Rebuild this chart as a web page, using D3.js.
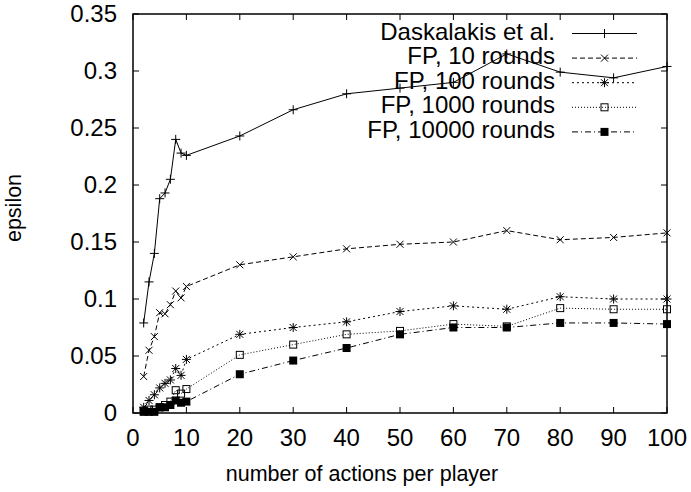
<!DOCTYPE html>
<html>
<head>
<meta charset="utf-8">
<script src="https://cdn.jsdelivr.net/npm/d3@7"></script>
<style>
  body { margin: 0; background: #fff; }
  svg text { font-family: "Liberation Sans", Arial, sans-serif; fill: #000; }
</style>
</head>
<body>
<svg id="chart" width="691" height="492"></svg>
<script>
// data
const actions = [2, 3, 4, 5, 6, 7, 8, 9, 10, 20, 30, 40, 50, 60, 70, 80, 90, 100];
const daskalakis = [0.079, 0.115, 0.140, 0.188, 0.193, 0.205, 0.240, 0.228, 0.226, 0.243, 0.266, 0.280, 0.285, 0.290, 0.315, 0.299, 0.294, 0.304];
const fp10 = [0.032, 0.055, 0.067, 0.088, 0.087, 0.095, 0.107, 0.101, 0.111, 0.130, 0.137, 0.144, 0.148, 0.150, 0.160, 0.152, 0.154, 0.158];
const fp100 = [0.005, 0.011, 0.016, 0.022, 0.026, 0.029, 0.039, 0.033, 0.047, 0.069, 0.075, 0.080, 0.089, 0.094, 0.091, 0.102, 0.100, 0.100];
const fp1000 = [0.002, 0.003, 0.003, 0.005, 0.007, 0.010, 0.020, 0.017, 0.021, 0.051, 0.060, 0.069, 0.072, 0.078, 0.076, 0.092, 0.091, 0.091];
const fp10000 = [0.001, 0.001, 0.001, 0.005, 0.005, 0.007, 0.011, 0.009, 0.010, 0.034, 0.046, 0.057, 0.069, 0.075, 0.075, 0.079, 0.079, 0.078];

const seriesNames = ["Daskalakis et al.", "FP, 10 rounds", "FP, 100 rounds", "FP, 1000 rounds", "FP, 10000 rounds"];
const seriesValues = [daskalakis, fp10, fp100, fp1000, fp10000];
const xTicks = [0, 10, 20, 30, 40, 50, 60, 70, 80, 90, 100];
const yTicks = [0, 0.05, 0.1, 0.15, 0.2, 0.25, 0.3, 0.35];

const dashes = [null, "5,3", "2,3", "1,2", "6,3,1,3"];
const markers = ["plus", "cross", "star", "square", "filled"];

const plotLeft = 133, plotRight = 667, plotTop = 14, plotBottom = 413;

const svg = d3.select("#chart");

const x = d3.scaleLinear().domain([0, 100]).range([plotLeft, plotRight]);
const y = d3.scaleLinear().domain([0, 0.35]).range([plotBottom, plotTop]);

// ticks on all four sides, pointing in
const tickLen = 6;
const axisG = svg.append("g").attr("stroke", "#000").attr("stroke-width", 1);
xTicks.forEach(t => {
  axisG.append("line").attr("x1", x(t)).attr("x2", x(t)).attr("y1", plotBottom).attr("y2", plotBottom - tickLen);
  axisG.append("line").attr("x1", x(t)).attr("x2", x(t)).attr("y1", plotTop).attr("y2", plotTop + tickLen);
});
yTicks.forEach(t => {
  axisG.append("line").attr("x1", plotLeft).attr("x2", plotLeft + tickLen).attr("y1", y(t)).attr("y2", y(t));
  axisG.append("line").attr("x1", plotRight).attr("x2", plotRight - tickLen).attr("y1", y(t)).attr("y2", y(t));
});

svg.append("g").selectAll("text")
  .data(xTicks)
  .join("text")
  .attr("x", d => x(d))
  .attr("y", 446)
  .attr("text-anchor", "middle")
  .style("font-size", "24px")
  .text(d => d);

svg.append("g").selectAll("text")
  .data(yTicks)
  .join("text")
  .attr("x", 117)
  .attr("y", d => y(d) + 8)
  .attr("text-anchor", "end")
  .style("font-size", "24px")
  .text(d => d3.format("")(d));

svg.append("text")
  .attr("x", 362)
  .attr("y", 481)
  .attr("text-anchor", "middle")
  .style("font-size", "21.5px")
  .text("number of actions per player");

svg.append("text")
  .attr("transform", "translate(21,208) rotate(-90)")
  .attr("text-anchor", "middle")
  .style("font-size", "21.5px")
  .text("epsilon");

function drawMarker(g, type, cx, cy) {
  const s = 4.5;
  if (type === "plus" || type === "star") {
    g.append("path").attr("d", `M${cx - s},${cy}H${cx + s}M${cx},${cy - s}V${cy + s}`)
      .attr("stroke", "#000").attr("stroke-width", 1).attr("fill", "none");
  }
  if (type === "cross" || type === "star") {
    const c = 3.5;
    g.append("path").attr("d", `M${cx - c},${cy - c}L${cx + c},${cy + c}M${cx - c},${cy + c}L${cx + c},${cy - c}`)
      .attr("stroke", "#000").attr("stroke-width", 1).attr("fill", "none");
  }
  if (type === "square") {
    g.append("rect").attr("x", cx - 3.5).attr("y", cy - 3.5).attr("width", 7).attr("height", 7)
      .attr("fill", "none").attr("stroke", "#000").attr("stroke-width", 1);
  }
  if (type === "filled") {
    g.append("rect").attr("x", cx - 4).attr("y", cy - 4).attr("width", 8).attr("height", 8)
      .attr("fill", "#000");
  }
}

const line = d3.line()
  .x(d => x(d[0]))
  .y(d => y(d[1]));

const plotG = svg.append("g");
seriesValues.forEach((vals, i) => {
  const pts = actions.map((a, j) => [a, vals[j]]);
  plotG.append("path")
    .datum(pts)
    .attr("d", line)
    .attr("fill", "none")
    .attr("stroke", "#000")
    .attr("stroke-width", 1)
    .attr("stroke-dasharray", dashes[i]);
  const mg = plotG.append("g");
  pts.forEach(p => drawMarker(mg, markers[i], x(p[0]), y(p[1])));
});

// legend
const legendG = svg.append("g");
seriesNames.forEach((name, i) => {
  const base = 39.5 + i * 24.6;
  legendG.append("text")
    .attr("x", 555)
    .attr("y", base)
    .attr("text-anchor", "end")
    .style("font-size", "24px")
    .text(name);
  const ly = base - 6;
  legendG.append("line")
    .attr("x1", 572).attr("x2", 637)
    .attr("y1", ly).attr("y2", ly)
    .attr("stroke", "#000")
    .attr("stroke-width", 1)
    .attr("stroke-dasharray", dashes[i]);
  drawMarker(legendG, markers[i], 604.5, ly);
});

// frame
svg.append("rect")
  .attr("x", plotLeft).attr("y", plotTop)
  .attr("width", plotRight - plotLeft).attr("height", plotBottom - plotTop)
  .attr("fill", "none")
  .attr("stroke", "#000")
  .attr("stroke-width", 1.5);
</script>
</body>
</html>
